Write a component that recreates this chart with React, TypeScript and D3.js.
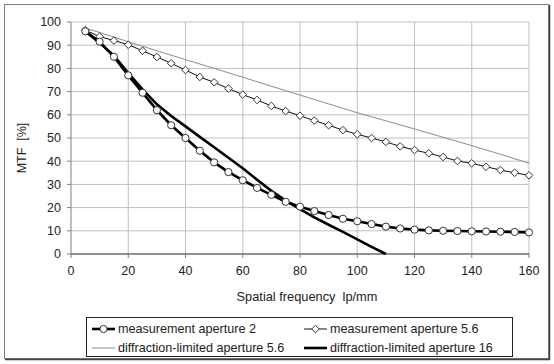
import * as d3 from "d3";

// measured curves, sampled every 5 lp/mm
const freq = [
  5, 10, 15, 20, 25, 30, 35, 40, 45, 50, 55, 60, 65, 70, 75, 80, 85, 90, 95,
  100, 105, 110, 115, 120, 125, 130, 135, 140, 145, 150, 155, 160,
];
const mtfAperture2 = [
  96, 91.5, 85, 77, 69.5, 62, 55.5, 50, 44.5, 39.5, 35.3, 31.8, 28.5, 25.5,
  22.5, 20.4, 18.5, 16.8, 15.2, 14.1, 12.9, 11.8, 11, 10.5, 10.2, 10, 9.9, 9.8,
  9.7, 9.6, 9.5, 9.3,
];
const mtfAperture56 = [
  96.5, 93.7, 92, 90.2, 87.6, 84.9, 82.2, 79.3, 76.3, 74, 71.3, 68.7, 66.4,
  63.8, 61.6, 59.6, 57.5, 55.5, 53.4, 51.6, 50, 48.3, 46.4, 44.8, 43.4, 41.8,
  40.1, 39.1, 37.6, 36.2, 35, 33.9,
];

// diffraction limits
const diff56Freq = [5, 10, 20, 30, 40, 50, 60, 70, 80, 90, 100, 110, 120, 130, 140, 150, 160];
const diff56Mtf = [97.3, 95.5, 91.5, 87.6, 83.8, 80, 76.2, 72.3, 68.5, 64.7, 60.9, 57.4, 53.9, 50.3, 46.7, 43, 39.1];
const diff16Freq = [5, 10, 15, 20, 25, 30, 35, 40, 45, 50, 55, 60, 65, 70, 75, 80, 85, 90, 95, 100, 105, 110];
const diff16Mtf = [96, 91, 85.5, 78, 71, 64.5, 59.5, 55, 50.5, 46, 41.5, 37, 32, 27.2, 23, 19.3, 15.8, 12.6, 9.5, 6.3, 3.1, 0];

const xTicks = [0, 20, 40, 60, 80, 100, 120, 140, 160];
const yTicks = [0, 10, 20, 30, 40, 50, 60, 70, 80, 90, 100];

const legendLabels = [
  "measurement aperture 2",
  "measurement aperture 5.6",
  "diffraction-limited aperture 5.6",
  "diffraction-limited aperture 16",
];

const width = 554;
const height = 364;
const margin = { top: 22, right: 25, bottom: 110, left: 71 };
const innerWidth = 529 - margin.left;
const innerHeight = 254 - margin.top;

const font = "Arial, 'Liberation Sans', sans-serif";

const App = () => {
  const x = d3.scaleLinear().domain([0, 160]).range([0, innerWidth]);
  const y = d3.scaleLinear().domain([0, 100]).range([innerHeight, 0]);

  const line = d3
    .line<[number, number]>()
    .x((d) => x(d[0]))
    .y((d) => y(d[1]));

  const ap2 = freq.map((f, i) => [f, mtfAperture2[i]] as [number, number]);
  const ap56 = freq.map((f, i) => [f, mtfAperture56[i]] as [number, number]);
  const d56 = diff56Freq.map((f, i) => [f, diff56Mtf[i]] as [number, number]);
  const d16 = diff16Freq.map((f, i) => [f, diff16Mtf[i]] as [number, number]);

  const diamond = (cx: number, cy: number, r = 3.8) =>
    `M${cx},${cy - r}L${cx + r},${cy}L${cx},${cy + r}L${cx - r},${cy}Z`;

  // legend layout
  const legX = [92, 304];
  const legY = [329, 348];

  return (
    <svg
      width={width}
      height={height}
      style={{ position: "absolute", left: 0, top: 0, background: "#fff" }}
      fontFamily={font}
    >
      {/* chart frame */}
      <rect x={4.5} y={4.5} width={544} height={354} fill="#fff" stroke="#808080" />
      <line x1={549.5} y1={5} x2={549.5} y2={360} stroke="#404040" strokeWidth={1.5} />
      <line x1={5} y1={359.5} x2={550} y2={359.5} stroke="#404040" strokeWidth={1.5} />

      <g transform={`translate(${margin.left},${margin.top})`}>
        {/* grid */}
        {yTicks.filter((t) => t > 0).map((t) => (
          <line key={"gy" + t} x1={0} x2={innerWidth} y1={y(t)} y2={y(t)} stroke="#c0c0c0" />
        ))}
        {xTicks.filter((t) => t > 0).map((t) => (
          <line key={"gx" + t} x1={x(t)} x2={x(t)} y1={0} y2={innerHeight} stroke="#c0c0c0" />
        ))}

        {/* axes */}
        <line x1={0} x2={0} y1={0} y2={innerHeight} stroke="#808080" />
        {yTicks.map((t) => (
          <g key={"ty" + t} transform={`translate(0,${y(t)})`}>
            <line x1={-4} x2={0} stroke="#808080" />
            <text x={-10} dy="0.35em" textAnchor="end" fontSize={12.5} fill="#222">
              {t}
            </text>
          </g>
        ))}
        <line x1={0} x2={innerWidth} y1={innerHeight} y2={innerHeight} stroke="#222" />
        {xTicks.map((t) => (
          <g key={"tx" + t} transform={`translate(${x(t)},${innerHeight})`}>
            <line y1={0} y2={4} stroke="#808080" />
            <text y={21} textAnchor="middle" fontSize={12.5} fill="#222">
              {t}
            </text>
          </g>
        ))}

        {/* curves */}
        <path d={line(d56) ?? ""} fill="none" stroke="#8c8c8c" strokeWidth={1} />
        <path d={line(ap56) ?? ""} fill="none" stroke="#111" strokeWidth={1} />
        <path d={line(d16) ?? ""} fill="none" stroke="#000" strokeWidth={2.6} />
        <path d={line(ap2) ?? ""} fill="none" stroke="#000" strokeWidth={2.6} />

        {ap56.map((d) => (
          <path key={"dm" + d[0]} d={diamond(x(d[0]), y(d[1]))} fill="#fff" stroke="#333" strokeWidth={1} />
        ))}
        {ap2.map((d) => (
          <circle key={"c" + d[0]} cx={x(d[0])} cy={y(d[1])} r={3.6} fill="#fff" stroke="#333" strokeWidth={1} />
        ))}
      </g>

      {/* axis titles */}
      <text x={307} y={301} textAnchor="middle" fontSize={12.8} fill="#222" style={{ whiteSpace: "pre" }}>
        {"Spatial frequency  lp/mm"}
      </text>
      <text
        transform="translate(26,148) rotate(-90)"
        textAnchor="middle"
        fontSize={12.5}
        fill="#222"
        style={{ whiteSpace: "pre" }}
      >
        {"MTF  [%]"}
      </text>

      {/* legend */}
      <rect x={86.5} y={317.5} width={426} height={39} fill="#fff" stroke="#222" />
      {/* measurement aperture 2 */}
      <line x1={legX[0]} x2={legX[0] + 23} y1={legY[0]} y2={legY[0]} stroke="#000" strokeWidth={2.6} />
      <circle cx={legX[0] + 11.5} cy={legY[0]} r={3.6} fill="#fff" stroke="#333" />
      {/* measurement aperture 5.6 */}
      <line x1={legX[1]} x2={legX[1] + 23} y1={legY[0]} y2={legY[0]} stroke="#111" strokeWidth={1} />
      <path d={diamond(legX[1] + 11.5, legY[0])} fill="#fff" stroke="#333" />
      {/* diffraction 5.6 */}
      <line x1={legX[0]} x2={legX[0] + 23} y1={legY[1]} y2={legY[1]} stroke="#8c8c8c" strokeWidth={1} />
      {/* diffraction 16 */}
      <line x1={legX[1]} x2={legX[1] + 23} y1={legY[1]} y2={legY[1]} stroke="#000" strokeWidth={2.6} />
      {legendLabels.map((label, i) => (
        <text
          key={label}
          x={legX[i % 2] + 26}
          y={legY[Math.floor(i / 2)]}
          dy="0.35em"
          fontSize={12.6}
          fill="#222"
        >
          {label}
        </text>
      ))}
    </svg>
  );
};

export default App;
